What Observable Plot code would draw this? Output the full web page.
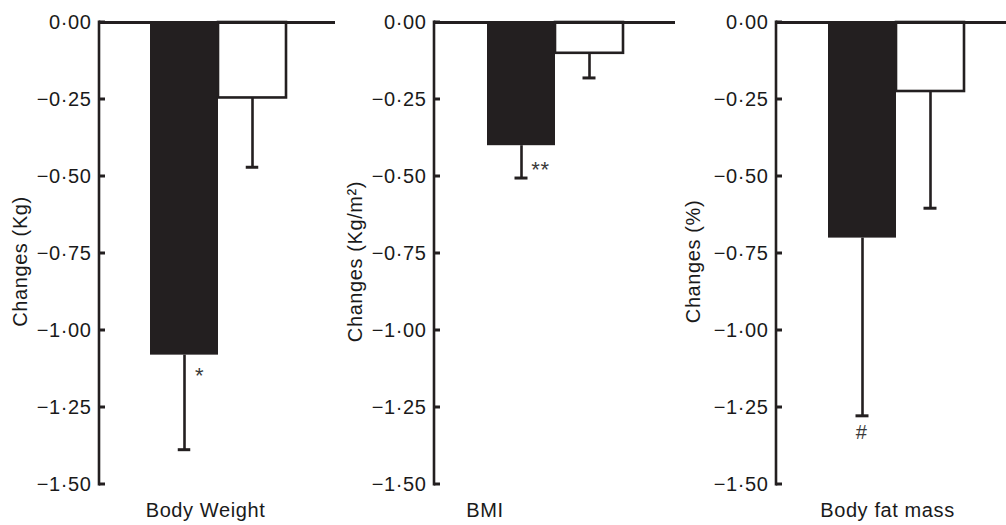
<!DOCTYPE html>
<html>
<head>
<meta charset="utf-8">
<script src="https://cdn.jsdelivr.net/npm/d3@7"></script>
<script src="https://cdn.jsdelivr.net/npm/@observablehq/plot@0.6"></script>
<style>
  body { margin: 0; background: #fff; }
  #chart { display: flex; width: 1006px; height: 525px; overflow: hidden; }
  #chart svg { display: block; flex: none; }
</style>
</head>
<body>
<div id="chart"></div>
<script>
// ---- data ----
const measures = ["Body Weight", "BMI", "Body fat mass"];
const yTitles = ["Changes (Kg)", "Changes (Kg/m²)", "Changes (%)"];
const groups = ["Intervention", "Control"];
const interventionMean = [-1.08, -0.40, -0.70];
const interventionErr = [0.307, 0.105, 0.577];
const controlMean = [-0.245, -0.10, -0.224];
const controlErr = [0.225, 0.08, 0.379];
const significance = ["*", "**", "#"];
const yTicks = [0, -0.25, -0.5, -0.75, -1, -1.25, -1.5];

// ---- layout (positions / styles only) ----
const layout = [
  { width: 336, ml: 99, mr: 1, band: [149, 286], tdx: -79, xdx: -12, sdx: 15, sdy: 21, sigLow: false, sfs: 22, sls: "0px" },
  { width: 340, ml: 98, mr: 1, band: [151, 287], tdx: -79, xdx: -70, sdx: 19, sdy: 24, sigLow: false, sfs: 22, sls: "2px" },
  { width: 330, ml: 100, mr: 0, band: [152, 288], tdx: -83, xdx: -4, sdx: -1, sdy: 17, sigLow: true, sfs: 20, sls: "0px" }
];
const ink = "#231f20";
const fmt = d => (d < 0 ? "\u2212" : "") + Math.abs(d).toFixed(2).replace(".", "\u00b7");

function panel(i) {
  const L = layout[i];
  const rows = groups.map((g, j) => {
    const mean = j === 0 ? interventionMean[i] : controlMean[i];
    const err = j === 0 ? interventionErr[i] : controlErr[i];
    return { group: g, mean, low: mean - err };
  });
  const bw = (L.band[1] - L.band[0]) / groups.length;
  const capInset = (bw - 13) / 2;

  const axisFrame = (index, scales, values, dims) => {
    const g = d3.create("svg:g").attr("stroke", ink).attr("fill", "none");
    const x0 = dims.marginLeft;
    g.append("line").attr("x1", x0).attr("x2", x0)
      .attr("y1", scales.y(0) - 1.5).attr("y2", scales.y(-1.5) + 1.5)
      .attr("stroke-width", 2.6);
    for (const t of yTicks) {
      g.append("line").attr("x1", x0).attr("x2", x0 + 6)
        .attr("y1", scales.y(t)).attr("y2", scales.y(t))
        .attr("stroke-width", 3);
    }
    return g.node();
  };

  return Plot.plot({
    width: L.width,
    height: 525,
    marginLeft: L.ml,
    marginRight: L.mr,
    marginTop: 22,
    marginBottom: 41,
    style: {
      fontFamily: "'Liberation Sans', Arial, sans-serif",
      fontSize: "20px",
      letterSpacing: "0.6px",
      color: "#1a1a1a",
      background: "white",
      overflow: "visible"
    },
    x: { type: "band", domain: groups, range: L.band, padding: 0, axis: null },
    y: { domain: [-1.5, 0], axis: null },
    marks: [
      Plot.barY(rows.filter(d => d.group === groups[0]), { x: "group", y: "mean", fill: ink }),
      Plot.barY(rows.filter(d => d.group === groups[1]), { x: "group", y: "mean", fill: "white", stroke: ink, strokeWidth: 2.6 }),
      Plot.ruleX(rows, { x: "group", y1: "mean", y2: "low", stroke: ink, strokeWidth: 2.6 }),
      Plot.tickY(rows, { x: "group", y: "low", stroke: ink, strokeWidth: 3, insetLeft: capInset, insetRight: capInset }),
      Plot.ruleY([0], { stroke: ink, strokeWidth: 3 }),
      axisFrame,
      Plot.axisY(yTicks, { tickSize: 0, tickPadding: 8, tickFormat: fmt }),
      Plot.text([yTitles[i]], { text: d => d, frameAnchor: "left", textAnchor: "middle", lineAnchor: "middle", rotate: -90, dx: L.tdx, dy: 8 }),
      Plot.text([measures[i]], { text: d => d, frameAnchor: "bottom", textAnchor: "middle", lineAnchor: "middle", dx: L.xdx, dy: 26 }),
      Plot.text([rows[0]], {
        x: "group", y: L.sigLow ? "low" : "mean",
        text: () => significance[i], dx: L.sdx, dy: L.sdy,
        fontSize: L.sfs, fill: "#3a3a3a", letterSpacing: L.sls
      })
    ]
  });
}

const host = document.getElementById("chart");
for (let i = 0; i < measures.length; i++) host.append(panel(i));
</script>
</body>
</html>
